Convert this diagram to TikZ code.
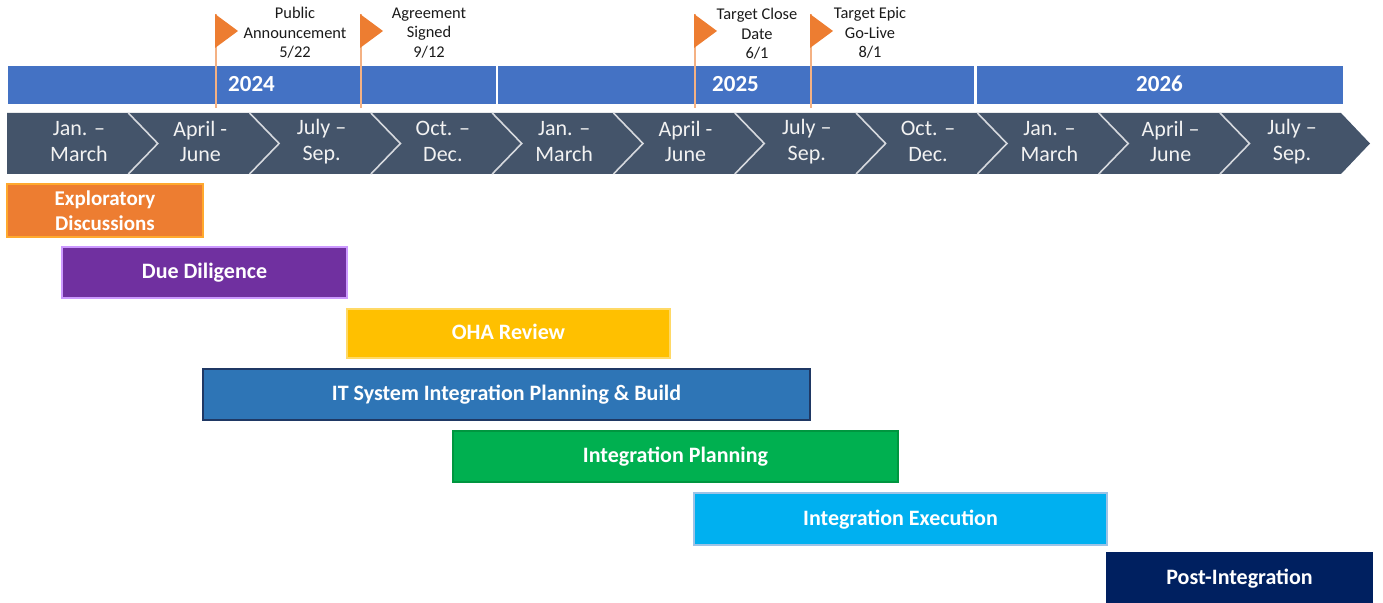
\documentclass[tikz,border=0pt]{standalone}
\usepackage{fontspec}
\setmainfont{Carlito}
\usepackage{xcolor}
\usepackage{tikz}
\usetikzlibrary{fit,positioning}
\definecolor{tlYear}{HTML}{4472C4}
\definecolor{tlChev}{HTML}{44546A}
\definecolor{tlSep}{HTML}{D6D9DE}
\definecolor{tlChevText}{HTML}{F2F2F2}
\definecolor{tlFlag}{HTML}{ED7D31}
\definecolor{tlPole}{HTML}{F4B183}
\definecolor{tlInk}{HTML}{1A1A1A}
\definecolor{tlExplore}{HTML}{ED7D31}
\definecolor{tlExploreLine}{HTML}{FFA92E}
\definecolor{tlDue}{HTML}{7030A0}
\definecolor{tlDueLine}{HTML}{CC99FF}
\definecolor{tlOha}{HTML}{FFC000}
\definecolor{tlOhaLine}{HTML}{FFD966}
\definecolor{tlIt}{HTML}{2E75B6}
\definecolor{tlItLine}{HTML}{1F3864}
\definecolor{tlPlan}{HTML}{00B050}
\definecolor{tlPlanLine}{HTML}{00963F}
\definecolor{tlExec}{HTML}{00B0F0}
\definecolor{tlExecLine}{HTML}{9DC3E6}
\definecolor{tlPost}{HTML}{002060}
\tikzset{
  tl diagram/.style={x=0.5pt, y=-0.5pt, line join=miter},
  tl year/.style={fill=tlYear, draw=white, line width=0.5pt, inner sep=0pt},
  tl year text/.style={text=white, inner sep=0pt, text height=0.75em, text depth=0.1em,
    font=\bfseries\fontsize{11.5}{13}\selectfont},
  tl chevron/.style={fill=tlChev},
  tl divider/.style={draw=tlSep, line width=0.8pt},
  tl quarter/.style={align=center, text=tlChevText,
    font=\fontsize{11}{12.8}\selectfont},
  tl flag/.style={fill=tlFlag},
  tl pole/.style={draw=tlPole, line width=0.6pt},
  tl note/.style={align=center, text=tlInk, font=\fontsize{8.2}{9.8}\selectfont},
  tl bar/.style={inner sep=0pt, line width=0.9pt},
  tl bar text/.style={text=white, inner sep=0pt, text height=0.75em, text depth=0.1em,
    font=\bfseries\fontsize{11}{12.5}\selectfont}
}
\begin{document}
\begin{tikzpicture}[tl diagram]
\useasboundingbox (0,0) rectangle (1383,603);
% years
\node[tl year, fit={(7,66) (496,105)}, label={[tl year text]center:2024}] (y2024) {};
\node[tl year, fit={(497,66) (974,105)}, label={[tl year text]center:2025}] (y2025) {};
\node[tl year, fit={(976,66) (1343,105)}, label={[tl year text]center:2026}] (y2026) {};
% quarter chevrons
\fill[tl chevron] (7,113) -- (1341,113) -- (1370,143.5) -- (1341,174) -- (7,174) -- cycle;
\foreach \k in {1,...,10}
  \draw[tl divider] (7+121.3*\k,113) -- (36.5+121.3*\k,143.5) -- (7+121.3*\k,174);
\foreach \lbl [count=\k from 0] in {{Jan. --\\March},{April -\\June},{July --\\Sep.},{Oct. --\\Dec.},
    {Jan. --\\March},{April -\\June},{July --\\Sep.},{Oct. --\\Dec.},
    {Jan. --\\March},{April --\\June},{July --\\Sep.}}
  \node[tl quarter] (q\k) at (79+121.3*\k,141.5) {\lbl};
% milestones
\foreach \fx in {216,361,695,811} {
  \draw[tl pole] (\fx,14) -- (\fx,108);
  \fill[tl flag] (\fx-1,14) -- (\fx+22,31) -- (\fx-1,48) -- cycle;
}
\node[tl note] (announce) at (295,33) {Public\\Announcement\\5/22};
\node[tl note] (signed) at (429,33) {Agreement\\Signed\\9/12};
\node[tl note] (close) at (757,34) {Target Close\\Date\\6/1};
\node[tl note] (golive) at (870,33) {Target Epic\\Go-Live\\8/1};
% workstreams
\node[tl bar, fill=tlExplore, draw=tlExploreLine, fit={(7,184) (203,237)},
  label={[align=center, text=white, inner sep=0pt, font=\bfseries\fontsize{10.5}{12.5}\selectfont]center:Exploratory\\Discussions}] (explore) {};
\node[tl bar, fill=tlDue, draw=tlDueLine, fit={(62,247) (347,298)},
  label={[tl bar text]center:Due Diligence}] (due) {};
\node[tl bar, fill=tlOha, draw=tlOhaLine, fit={(347,309) (670,358)},
  label={[tl bar text]center:OHA Review}] (oha) {};
\node[tl bar, fill=tlIt, draw=tlItLine, fit={(203,369) (810,420)},
  label={[tl bar text]center:IT System Integration Planning \& Build}] (itsys) {};
\node[tl bar, fill=tlPlan, draw=tlPlanLine, fit={(453,431) (898,482)},
  label={[tl bar text]center:Integration Planning}] (plan) {};
\node[tl bar, fill=tlExec, draw=tlExecLine, fit={(694,493) (1107,545)},
  label={[tl bar text]center:Integration Execution}] (exec) {};
\node[tl bar, fill=tlPost, draw=tlPost, fit={(1107,553) (1372,604)},
  label={[tl bar text]center:Post-Integration}] (post) {};
\end{tikzpicture}
\end{document}
